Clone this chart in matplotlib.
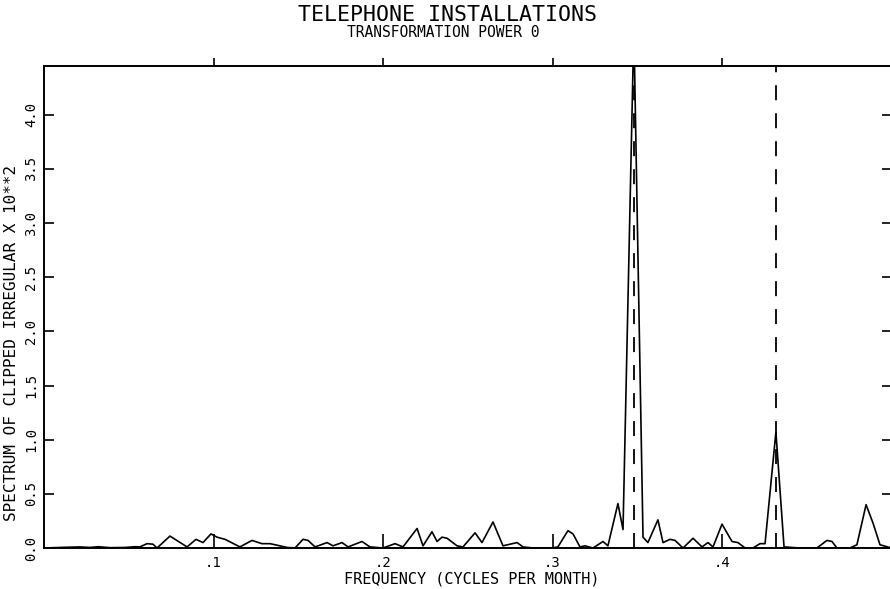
import matplotlib
matplotlib.use("Agg")
import matplotlib.pyplot as plt

plt.rcParams['font.family'] = 'DejaVu Sans Mono'

# spectrum of the clipped irregular (x 10**2), read at the plotted vertices
freq = [0.0, 0.0094, 0.0212, 0.0271, 0.0319, 0.0389, 0.0478, 0.0537, 0.0566,
        0.0608, 0.0643, 0.0667, 0.0743, 0.0844, 0.0897, 0.0938, 0.0985, 0.1021,
        0.1068, 0.1156, 0.1227, 0.1286, 0.1333, 0.1392, 0.1434, 0.1481, 0.1528,
        0.1558, 0.1599, 0.1670, 0.1705, 0.1758, 0.1794, 0.1876, 0.1923, 0.2000,
        0.2071, 0.2118, 0.2201, 0.2236, 0.2289, 0.2319, 0.2348, 0.2378, 0.2437,
        0.2472, 0.2543, 0.2584, 0.2649, 0.2708, 0.2791, 0.2826, 0.2885, 0.2997,
        0.3032, 0.3091, 0.3121, 0.3162, 0.3192, 0.3239, 0.3298, 0.3327, 0.3386,
        0.3416, 0.3480, 0.3534, 0.3563, 0.3622, 0.3652, 0.3693, 0.3723, 0.3770,
        0.3829, 0.3882, 0.3917, 0.3947, 0.4000, 0.4059, 0.4094, 0.4136, 0.4183,
        0.4224, 0.4254, 0.4318, 0.4366, 0.4460, 0.4560, 0.4619, 0.4649, 0.4678,
        0.4755, 0.4796, 0.4850, 0.4891, 0.4932, 0.5000]
spec = [0.0, 0.005, 0.01, 0.005, 0.012, 0.003, 0.005, 0.012, 0.01,
        0.04, 0.035, 0.0, 0.11, 0.01, 0.08, 0.05, 0.13, 0.10,
        0.08, 0.01, 0.07, 0.04, 0.04, 0.02, 0.005, 0.0, 0.08,
        0.07, 0.01, 0.05, 0.02, 0.05, 0.01, 0.06, 0.01, 0.0,
        0.04, 0.01, 0.18, 0.02, 0.15, 0.06, 0.10, 0.09, 0.02,
        0.01, 0.14, 0.05, 0.24, 0.02, 0.05, 0.01, 0.0, 0.0,
        0.01, 0.16, 0.13, 0.01, 0.02, 0.0, 0.06, 0.02, 0.41,
        0.17, 4.8, 0.10, 0.05, 0.26, 0.05, 0.08, 0.07, 0.0,
        0.09, 0.01, 0.05, 0.01, 0.22, 0.06, 0.05, 0.0, 0.0,
        0.04, 0.04, 1.07, 0.01, 0.0, 0.0, 0.07, 0.06, 0.0,
        0.0, 0.03, 0.40, 0.23, 0.03, 0.0]

# trading-day frequencies
td_freqs = [0.348, 0.432]

xticks = [0.1, 0.2, 0.3, 0.4]
xticklabels = ['.1', '.2', '.3', '.4']
yticks = [0.0, 0.5, 1.0, 1.5, 2.0, 2.5, 3.0, 3.5, 4.0]

fig = plt.figure(figsize=(8.9, 5.89), dpi=100)
ax = fig.add_axes([44 / 890, 41 / 589, 847.5 / 890, 482 / 589])

ax.plot(freq, spec, color='black', lw=1.2)
for f in td_freqs:
    ax.axvline(f, color='black', lw=1.3, linestyle=(0, (8.3, 7.2)))

ax.set_xlim(0, 0.5)
ax.set_ylim(0, 4.45)

for s in ax.spines.values():
    s.set_linewidth(1.4)

ax.set_xticks(xticks)
ax.set_xticklabels(xticklabels, fontsize=10)
ax.set_yticks(yticks)
ax.set_yticklabels(['%.1f' % v for v in yticks], rotation=90, va='center',
                   fontsize=10)

ax.tick_params(axis='x', which='both', bottom=True, top=True, direction='in',
               length=10, width=1.2, pad=6)
ax.tick_params(axis='y', which='both', left=True, right=True, direction='in',
               length=7, width=1.2, pad=4)
# top ticks stick outward
for t in ax.xaxis.get_major_ticks():
    t.tick2line.set_marker(matplotlib.lines.TICKUP)
    t.tick2line.set_markersize(6)

fig.text(0.503, 0.975, 'TELEPHONE INSTALLATIONS', ha='center', va='center',
         fontsize=15.5)
fig.text(0.498, 0.944, 'TRANSFORMATION POWER 0', ha='center', va='center',
         fontsize=10.5)
fig.text(0.530, 0.017, 'FREQUENCY (CYCLES PER MONTH)', ha='center', va='center',
         fontsize=11)
fig.text(0.0125, 0.418, 'SPECTRUM OF CLIPPED IRREGULAR X 10**2', ha='center',
         va='center', rotation=90, fontsize=11.5)

fig.savefig('out.png', dpi=100)
